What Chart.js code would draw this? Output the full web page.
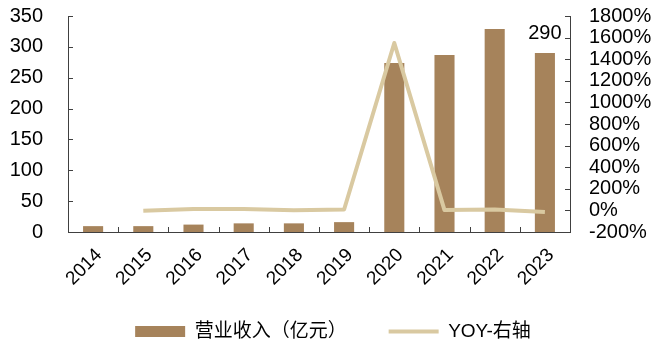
<!DOCTYPE html>
<html>
<head>
<meta charset="utf-8">
<script src="https://cdn.jsdelivr.net/npm/chart.js@4.4.0/dist/chart.umd.min.js"></script>
<style>
  html, body { margin: 0; padding: 0; background: #fff; }
  #wrap { width: 654px; height: 347px; position: relative; }
</style>
</head>
<body>
<div id="wrap"><canvas id="revenueChart"></canvas></div>
<script>
// ── Data ──
const YEARS   = ["2014", "2015", "2016", "2017", "2018", "2019", "2020", "2021", "2022", "2023"];
const REVENUE = [9.5, 9.5, 12, 14, 14, 16, 274, 287, 329, 290];       // 亿元
const YOY     = [null, -3, 12, 14, 2, 8, 1550, 3, 8, -15];            // %
const LEFT_RANGE  = [0, 350, 50];      // min, max, step
const RIGHT_RANGE = [-200, 1800, 200];
const LABELS = ["营业收入（亿元）", "YOY-右轴"];

// ── Styles ──
const BAR_COLOR  = "#A6835B";
const LINE_COLOR = "#D9C9A1";
const AXIS_COLOR = "#404040";
const FONT = "'Liberation Sans', Arial, 'Noto Sans CJK SC', sans-serif";

// small tick marks drawn on the inside of the axes
const innerTicks = {
    id: "innerTicks",
    afterDraw(chart) {
        const { ctx, chartArea: a, scales: { x, y, y1 } } = chart;
        ctx.save();
        ctx.strokeStyle = AXIS_COLOR;
        ctx.lineWidth = 1;
        ctx.beginPath();
        y.ticks.forEach(t => {
            const py = Math.round(y.getPixelForValue(t.value)) + 0.5;
            ctx.moveTo(a.left, py); ctx.lineTo(a.left + 5, py);
        });
        y1.ticks.forEach(t => {
            const py = Math.round(y1.getPixelForValue(t.value)) + 0.5;
            ctx.moveTo(a.right, py); ctx.lineTo(a.right - 5, py);
        });
        for (let i = 1; i < YEARS.length; i++) {
            const px = Math.round(x.getPixelForValue(i - 0.5)) + 0.5;
            ctx.moveTo(px, a.bottom); ctx.lineTo(px, a.bottom - 5);
        }
        ctx.stroke();
        ctx.restore();
    },
};

// value label over the last bar
const lastBarLabel = {
    id: "lastBarLabel",
    afterDatasetsDraw(chart) {
        const meta = chart.getDatasetMeta(1);
        const bar = meta.data[meta.data.length - 1];
        if (!bar) return;
        const { ctx } = chart;
        ctx.save();
        ctx.font = `20px ${FONT}`;
        ctx.fillStyle = "#000";
        ctx.textAlign = "center";
        ctx.textBaseline = "alphabetic";
        ctx.fillText(String(REVENUE[REVENUE.length - 1]), bar.x, bar.y - 14);
        ctx.restore();
    },
};

// legend a little to the right; let rotated x labels run past the x box (no clipping)
const layoutTweaks = {
    id: "layoutTweaks",
    afterLayout(chart) {
        if (chart.legend) {
            chart.legend.left += 6;
            chart.legend.right += 6;
        }
        chart.scales.x.bottom = chart.height;
    },
};

// y axes: keep label padding horizontal only
const fitY = width => s => {
    s.width = width;
    s.paddingTop = 12;
    s.paddingBottom = 12;
};

new Chart(document.getElementById("revenueChart"), {
    data: {
        labels: YEARS,
        datasets: [
            {
                type: "line",
                label: LABELS[1],
                data: YOY,
                yAxisID: "y1",
                borderColor: LINE_COLOR,
                borderWidth: 4,
                pointRadius: 0,
                tension: 0,
                borderJoinStyle: "round",
                order: 0,
            },
            {
                type: "bar",
                label: LABELS[0],
                data: REVENUE,
                yAxisID: "y",
                backgroundColor: BAR_COLOR,
                barPercentage: 0.4,
                categoryPercentage: 1,
                order: 1,
            },
        ],
    },
    options: {
        responsive: true,
        maintainAspectRatio: false,
        animation: false,
        layout: { padding: { top: 16, left: 0, right: 0, bottom: -4 } },
        plugins: {
            tooltip: { enabled: false },
            legend: {
                position: "bottom",
                labels: {
                    usePointStyle: true,
                    pointStyleWidth: 50,
                    boxHeight: 11,
                    padding: 42,
                    color: "#222",
                    font: { size: 19, family: FONT },
                    generateLabels: () => [
                        { text: LABELS[0], fillStyle: BAR_COLOR, strokeStyle: BAR_COLOR, lineWidth: 0, pointStyle: "rect", datasetIndex: 1 },
                        { text: LABELS[1], fillStyle: LINE_COLOR, strokeStyle: LINE_COLOR, lineWidth: 4, pointStyle: "line", datasetIndex: 0 },
                    ],
                },
            },
        },
        scales: {
            x: {
                grid: { display: false, drawTicks: false },
                border: { color: AXIS_COLOR },
                ticks: {
                    color: "#000",
                    font: { size: 19, family: FONT },
                    minRotation: 45,
                    maxRotation: 45,
                    autoSkip: false,
                    padding: 12,
                    labelOffset: 6,
                },
                afterFit: s => { s.height = 48; },
            },
            y: {
                position: "left",
                min: LEFT_RANGE[0],
                max: LEFT_RANGE[1],
                grid: { display: false, drawTicks: false },
                border: { color: AXIS_COLOR },
                ticks: {
                    stepSize: LEFT_RANGE[2],
                    autoSkip: false,
                    color: "#000",
                    padding: 25,
                    font: { size: 20, family: FONT },
                },
                afterFit: fitY(68),
            },
            y1: {
                position: "right",
                min: RIGHT_RANGE[0],
                max: RIGHT_RANGE[1],
                grid: { display: false, drawTicks: false },
                border: { color: AXIS_COLOR },
                ticks: {
                    stepSize: RIGHT_RANGE[2],
                    autoSkip: false,
                    color: "#000",
                    padding: 19,
                    font: { size: 20, family: FONT },
                    callback: v => `${v}%`,
                },
                afterFit: fitY(84),
            },
        },
    },
    plugins: [innerTicks, lastBarLabel, layoutTweaks],
});
</script>
</body>
</html>
